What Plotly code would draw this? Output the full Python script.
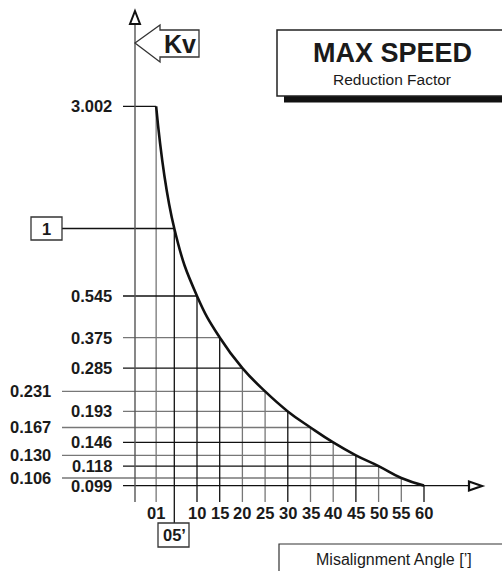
import math
import plotly.graph_objects as go

# ---------------- data ----------------
angles = [1, 5, 10, 15, 20, 25, 30, 35, 40, 45, 50, 55, 60]
kv = [3.002, 1.0, 0.545, 0.375, 0.285, 0.231, 0.193, 0.167, 0.146, 0.130, 0.118, 0.106, 0.099]
x_tick_labels = ["01", "05’", "10", "15", "20", "25", "30", "35", "40", "45", "50", "55", "60"]
kv_labels = ["3.002", "1", "0.545", "0.375", "0.285", "0.231", "0.193", "0.167", "0.146", "0.130", "0.118", "0.106", "0.099"]
left_column = {"0.231", "0.167", "0.130", "0.106"}
boxed_kv = "1"
boxed_angle = "05’"
gray_h = {"0.375", "0.231", "0.193", "0.167", "0.130", "0.106"}
gray_v = {1, 20, 25, 35, 40, 50, 55}

# ---------------- geometry helpers (pixels -> axis / paper) ----------------
W, H = 502, 571
X0, XS = 151.6, 4.54          # pixel of angle 0, pixels per unit
Y1, YS = 228.5, 256.0         # pixel of Kv=1, pixels per decade


def px2x(px):
    return (px - X0) / XS


def py2log(py):
    return -(py - Y1) / YS


def py2y(py):
    return 10 ** py2log(py)


def PX(px):
    return px / W


def PY(py):
    return 1 - py / H


FONT_C = "Liberation Sans, Arial, Helvetica, sans-serif"
FONT_A = "Liberation Sans, Arial, Helvetica, sans-serif"
TXT = "#1a1a1a"
GRAY = "#777777"
LSIZE = 16.5

fig = go.Figure()

# ---------------- grid mesh under the curve ----------------
def add_lines(xs, ys, color, width=1.3):
    fig.add_trace(go.Scatter(x=xs, y=ys, mode="lines", line=dict(color=color, width=width),
                             hoverinfo="skip", showlegend=False))

groups = {GRAY: ([], []), "#111111": ([], [])}
y_bottom = py2y(502)
for a, v, lab in zip(angles, kv, kv_labels):
    # horizontal
    start_px = 62 if (lab in left_column or lab == boxed_kv) else 123
    end_x = a if lab != "0.099" else px2x(470)
    col = GRAY if lab in gray_h else "#111111"
    gx, gy = groups[col]
    gx += [px2x(start_px), end_x, None]
    gy += [v, v, None]
    # vertical
    col = GRAY if a in gray_v else "#111111"
    gx, gy = groups[col]
    bot = py2y(523) if a == 5 else y_bottom
    gx += [a, a, None]
    gy += [bot, v, None]

for col, (gx, gy) in groups.items():
    add_lines(gx, gy, col)

# y axis line
add_lines([px2x(135), px2x(135)], [py2y(502), py2y(24)], "#555555", 1.4)

# curve
fig.add_trace(go.Scatter(x=angles, y=kv, mode="lines",
                         line=dict(color="#111111", width=2.6, shape="spline", smoothing=1.3),
                         hoverinfo="skip", showlegend=False))

# ---------------- annotations: Kv labels ----------------
ann = []
for v, lab in zip(kv, kv_labels):
    if lab == boxed_kv:
        ann.append(dict(x=PX(46.5), y=math.log10(v), xref="paper", yref="y", text=lab,
                        showarrow=False, xanchor="center", yanchor="middle",
                        font=dict(family=FONT_C, size=LSIZE, color=TXT, weight="bold")))
        continue
    right = 53 if lab in left_column else 114
    ann.append(dict(x=PX(right), y=math.log10(v), xref="paper", yref="y", text=lab,
                    showarrow=False, xanchor="right", yanchor="middle",
                    font=dict(family=FONT_C, size=LSIZE, color=TXT, weight="bold")))

# x labels
for a, lab in zip(angles, x_tick_labels):
    ypix = 535 if lab == boxed_angle else 513
    ann.append(dict(x=a, y=PY(ypix), xref="x", yref="paper", text=lab, showarrow=False,
                    xanchor="center", yanchor="middle",
                    font=dict(family=FONT_C, size=LSIZE, color=TXT, weight="bold")))

# Kv title
ann.append(dict(x=PX(180), y=PY(44), xref="paper", yref="paper", text="Kv", showarrow=False,
                xanchor="center", yanchor="middle",
                font=dict(family=FONT_A, size=25, color=TXT, weight="bold")))
# MAX SPEED box texts
ann.append(dict(x=PX(392), y=PY(53), xref="paper", yref="paper", text="MAX SPEED", showarrow=False,
                xanchor="center", yanchor="middle",
                font=dict(family=FONT_A, size=27, color=TXT, weight="bold")))
ann.append(dict(x=PX(392), y=PY(79), xref="paper", yref="paper", text="Reduction Factor", showarrow=False,
                xanchor="center", yanchor="middle",
                font=dict(family=FONT_A, size=15.5, color=TXT)))
ann.append(dict(x=PX(394), y=PY(559), xref="paper", yref="paper", text="Misalignment Angle [’]",
                showarrow=False, xanchor="center", yanchor="middle",
                font=dict(family=FONT_A, size=16, color=TXT)))

# ---------------- decorative shapes ----------------
def path(points, close=True):
    s = "M " + " L ".join(f"{PX(x):.5f},{PY(y):.5f}" for x, y in points)
    return s + (" Z" if close else "")

shapes = []
# "1" box
shapes.append(dict(type="rect", xref="paper", yref="paper", x0=PX(31), x1=PX(62), y0=PY(240), y1=PY(217),
                   line=dict(color="#333333", width=1.3), fillcolor="rgba(0,0,0,0)"))
# "05'" box
shapes.append(dict(type="rect", xref="paper", yref="paper", x0=PX(158), x1=PX(189), y0=PY(547), y1=PY(523),
                   line=dict(color="#333333", width=1.3), fillcolor="rgba(0,0,0,0)"))
# Kv arrow
shapes.append(dict(type="path", xref="paper", yref="paper",
                   path=path([(135, 43), (160, 25), (160, 30), (199, 30), (199, 57), (160, 57), (160, 62)]),
                   line=dict(color="#333333", width=1.3), fillcolor="white"))
# y-axis arrow head
shapes.append(dict(type="path", xref="paper", yref="paper",
                   path=path([(135, 11), (140, 24), (130, 24)]),
                   line=dict(color="#111111", width=2), fillcolor="white"))
# x-axis arrow head
shapes.append(dict(type="path", xref="paper", yref="paper",
                   path=path([(482, 486), (469, 481.5), (469, 490.5)]),
                   line=dict(color="#111111", width=2.2), fillcolor="white"))
# MAX SPEED shadow + box
shapes.append(dict(type="rect", xref="paper", yref="paper", x0=PX(284), x1=PX(520), y0=PY(102.5), y1=PY(40),
                   line=dict(width=0), fillcolor="#111111"))
shapes.append(dict(type="rect", xref="paper", yref="paper", x0=PX(277), x1=PX(520), y0=PY(96), y1=PY(30),
                   line=dict(color="#222222", width=1.5), fillcolor="white"))
# Misalignment box
shapes.append(dict(type="rect", xref="paper", yref="paper", x0=PX(279), x1=PX(520), y0=PY(590), y1=PY(544),
                   line=dict(color="#333333", width=1.2), fillcolor="rgba(0,0,0,0)"))

fig.update_layout(
    width=W, height=H,
    margin=dict(l=0, r=0, t=0, b=0),
    paper_bgcolor="white", plot_bgcolor="white",
    xaxis=dict(range=[px2x(0), px2x(W)], visible=False, fixedrange=True),
    yaxis=dict(type="log", range=[py2log(H), py2log(0)], visible=False, fixedrange=True),
    annotations=ann, shapes=shapes, showlegend=False,
)
fig.write_html("out.html", config={"displayModeBar": False},
               post_script="document.body.style.margin='0';document.body.style.overflow='hidden';")
